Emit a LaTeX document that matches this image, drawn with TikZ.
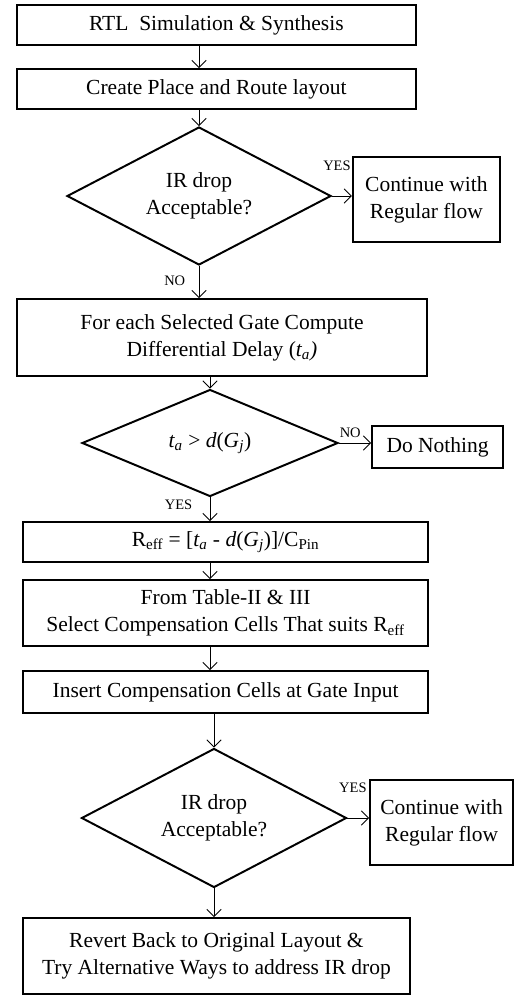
\documentclass[tikz,border=0pt]{standalone}
\usepackage{fontspec}
\setmainfont{Liberation Serif}
\usetikzlibrary{arrows.meta}
\usetikzlibrary{shapes.geometric}

\begin{document}
\begin{tikzpicture}[
  process/.style={rectangle,draw,line width=1.4pt,inner sep=0,align=center,font=\fontsize{15.3}{19.2}\selectfont},
  decision/.style={diamond,draw,line width=1.4pt,inner sep=0,align=center,font=\fontsize{15.3}{19.2}\selectfont},
  flow/.style={-{Straight Barb[length=1.8mm,width=3.6mm]},line width=0.6pt},
  answer/.style={font=\fontsize{10.3}{12}\selectfont,inner sep=1pt}]

  \useasboundingbox (0,0) rectangle (12.85,-24.9);

  \node[process,minimum width=9.98cm,minimum height=1cm] (rtl) at (5.41,-0.625) {RTL\ \ Simulation \& Synthesis};
  \node[process,minimum width=9.98cm,minimum height=1cm] (pnr) at (5.41,-2.225) {Create Place and Route layout};
  \node[decision,aspect=1.91,minimum width=6.6cm,minimum height=3.45cm] (ir1) at (4.975,-4.9) {IR drop\\Acceptable?};
  \node[process,minimum width=3.675cm,minimum height=2.125cm] (cont1) at (10.66,-4.99) {Continue with\\Regular flow};
  \node[process,minimum width=10.25cm,minimum height=1.925cm] (delay) at (5.55,-8.44) {For each Selected Gate Compute\\Differential Delay (\textit{t\textsubscript{a})}};
  \node[decision,aspect=2.39,minimum width=6.4cm,minimum height=2.675cm] (cmp) at (5.25,-11.075) {\textit{t\textsubscript{a}} > \textit{d}(\textit{G\textsubscript{j}})};
  \node[process,minimum width=3.275cm,minimum height=1.05cm] (none) at (10.94,-11.175) {Do Nothing};
  \node[process,minimum width=10.125cm,minimum height=1cm] (reff) at (5.64,-13.55) {R\textsubscript{eff} = [\textit{t\textsubscript{a}} - \textit{d}(\textit{G\textsubscript{j}})]/C\textsubscript{Pin}};
  \node[process,minimum width=10.125cm,minimum height=1.65cm] (table) at (5.64,-15.325) {From Table-II \& III\\Select Compensation Cells That suits R\textsubscript{eff}};
  \node[process,minimum width=10.125cm,minimum height=1.05cm] (insert) at (5.64,-17.3) {Insert Compensation Cells at Gate Input};
  \node[decision,aspect=1.91,minimum width=6.625cm,minimum height=3.475cm] (ir2) at (5.35,-20.45) {IR drop\\Acceptable?};
  \node[process,minimum width=3.575cm,minimum height=2.125cm] (cont2) at (11.04,-20.56) {Continue with\\Regular flow};
  \node[process,minimum width=9.675cm,minimum height=1.9cm] (revert) at (5.41,-23.9) {Revert Back to Original Layout \&\\Try Alternative Ways to address IR drop};

  \draw[flow] (rtl.south -| ir1.north) -- (pnr.north -| ir1.north);
  \draw[flow] (pnr.south -| ir1.north) -- (ir1.north);
  \draw[flow] (ir1.east) -- node[answer,pos=0.25,above=0.6cm] {YES} (cont1.west |- ir1.east);
  \draw[flow] (ir1.south) -- node[answer,pos=0.45,left=0.3cm] {NO} (delay.north -| ir1.south);
  \draw[flow] (delay.south -| cmp.north) -- (cmp.north);
  \draw[flow] (cmp.east) -- node[answer,pos=0.35,above=0.1cm] {NO} (none.west |- cmp.east);
  \draw[flow] (cmp.south) -- node[answer,pos=0.3,left=0.4cm] {YES} (reff.north -| cmp.south);
  \draw[flow] (reff.south -| cmp.south) -- (table.north -| cmp.south);
  \draw[flow] (table.south -| cmp.south) -- (insert.north -| cmp.south);
  \draw[flow] (insert.south -| ir2.north) -- (ir2.north);
  \draw[flow] (ir2.east) -- node[answer,pos=0.25,above=0.6cm] {YES} (cont2.west |- ir2.east);
  \draw[flow] (ir2.south) -- (revert.north -| ir2.south);
\end{tikzpicture}
\end{document}
